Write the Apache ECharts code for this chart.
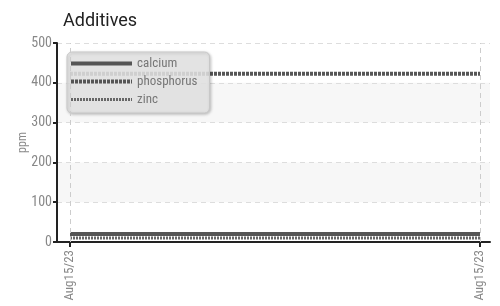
<!DOCTYPE html>
<html>
<head>
<meta charset="utf-8">
<script src="https://cdn.jsdelivr.net/npm/echarts@6/dist/echarts.min.js"></script>
<style>
    html, body { margin: 0; padding: 0; background: #fff; }
    #chart { width: 500px; height: 306px; }
</style>
</head>
<body>
<div id="chart"></div>
<script>
// 数据
var dates = ['Aug15/23', 'Aug15/23'];
var calcium = [20, 20];
var phosphorus = [423, 423];
var zinc = [10, 10];
var yTicks = [0, 100, 200, 300, 400, 500];

var FONT = "'Roboto Condensed', Roboto, sans-serif";

// x 用数值轴，两端留出空白
function pairs(vals) {
    return vals.map(function (v, i) { return [i, v]; });
}

var myChart = echarts.init(document.getElementById('chart'), null, {renderer: 'canvas'});

var option = {
    animation: false,
    title: {
        text: 'Additives',
        left: 58,
        top: 7,
        textStyle: {
            color: '#222',
            fontSize: 18,
            fontWeight: 'normal',
            fontFamily: "Roboto, sans-serif"
        }
    },
    legend: {
        orient: 'vertical',
        left: 67,
        top: 52,
        padding: [5, 12, 7, 2],
        itemWidth: 61,
        itemHeight: 12,
        itemGap: 5,
        backgroundColor: 'rgba(232,232,232,0.85)',
        borderColor: '#c8c8c8',
        borderWidth: 1,
        borderRadius: 5,
        shadowColor: 'rgba(0,0,0,0.25)',
        shadowBlur: 3,
        shadowOffsetX: 1,
        shadowOffsetY: 1,
        itemStyle: {opacity: 0},
        textStyle: {
            color: '#777',
            fontSize: 13,
            fontFamily: FONT
        },
        data: [
            {name: 'calcium', lineStyle: {width: 4}},
            {name: 'phosphorus', lineStyle: {width: 4}},
            {name: 'zinc', lineStyle: {width: 3}}
        ]
    },
    grid: {
        left: 57,
        right: 10,
        top: 43,
        bottom: 64
    },
    xAxis: {
        type: 'value',
        min: -13 / 410,
        max: 1 + 10 / 410,
        axisLine: {
            onZero: false,
            lineStyle: {color: '#222', width: 2}
        },
        axisTick: {
            show: true,
            customValues: [0, 1],
            length: 5,
            lineStyle: {color: '#222', width: 2}
        },
        axisLabel: {
            customValues: [0, 1],
            rotate: 90,
            color: '#888',
            fontSize: 13,
            fontFamily: FONT,
            formatter: function (v) {
                return dates[Math.round(v)];
            }
        },
        splitLine: {show: false}
    },
    yAxis: {
        type: 'value',
        min: yTicks[0],
        max: yTicks[yTicks.length - 1],
        interval: 100,
        name: 'ppm',
        nameLocation: 'middle',
        nameGap: 28,
        nameMoveOverlap: false,
        nameTextStyle: {
            color: '#888',
            fontSize: 12,
            fontFamily: FONT
        },
        axisLine: {
            show: true,
            onZero: false,
            lineStyle: {color: '#222', width: 2}
        },
        axisTick: {
            show: true,
            length: 4,
            lineStyle: {color: '#222', width: 2}
        },
        axisLabel: {
            color: '#888',
            fontSize: 14,
            margin: 5,
            fontFamily: FONT
        },
        splitLine: {
            show: true,
            lineStyle: {color: '#ddd', type: [5, 4], width: 1}
        },
        splitArea: {
            show: true,
            areaStyle: {color: ['rgba(255,255,255,0)', '#f7f7f7']}
        }
    },
    series: [
        {
            name: 'calcium',
            type: 'line',
            symbol: 'none',
            data: pairs(calcium),
            color: '#555',
            lineStyle: {color: '#555', width: 4},
            markLine: {
                silent: true,
                symbol: 'none',
                label: {show: false},
                lineStyle: {color: '#ccc', type: [5, 4], width: 1},
                data: [{xAxis: 0}, {xAxis: 1}]
            }
        },
        {
            name: 'phosphorus',
            type: 'line',
            symbol: 'none',
            data: pairs(phosphorus),
            color: '#555',
            lineStyle: {color: '#555', width: 4, type: [3, 1]}
        },
        {
            name: 'zinc',
            type: 'line',
            symbol: 'none',
            data: pairs(zinc),
            color: '#666',
            lineStyle: {color: '#666', width: 3, type: [2, 1]}
        }
    ]
};

myChart.setOption(option);
</script>
</body>
</html>
